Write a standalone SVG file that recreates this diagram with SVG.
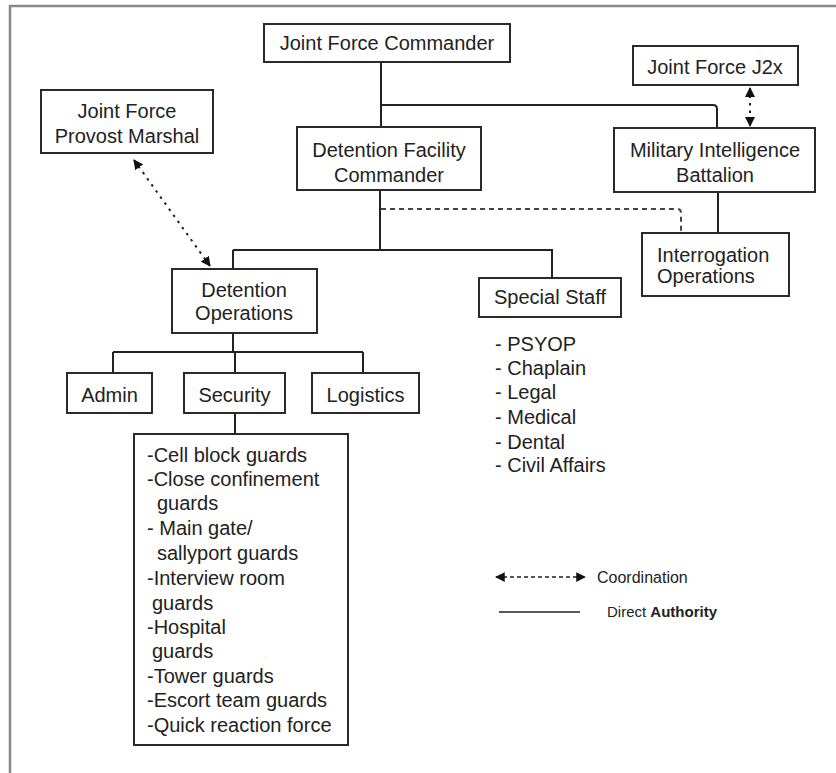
<svg xmlns="http://www.w3.org/2000/svg" width="836" height="773" viewBox="0 0 836 773">
<style>
.box{fill:#fff;stroke:#2a2a2a;stroke-width:2}
.t{font-family:"Liberation Sans",Arial,sans-serif;font-size:20px;fill:#222}
.c{text-anchor:middle}
.ln{fill:none;stroke:#222;stroke-width:2}
.dot{fill:none;stroke:#222;stroke-width:2;stroke-dasharray:2.5 5}
.dash{fill:none;stroke:#444;stroke-width:2;stroke-dasharray:5 4}
</style>
<defs>
<marker id="ah" viewBox="0 0 10 10" refX="9" refY="5" markerWidth="5" markerHeight="5" orient="auto-start-reverse" markerUnits="strokeWidth">
<path d="M0,0 L10,5 L0,10 z" fill="#111"/>
</marker>
<marker id="ahl" viewBox="0 0 10 10" refX="9" refY="5" markerWidth="6.5" markerHeight="6.5" orient="auto-start-reverse" markerUnits="strokeWidth">
<path d="M0,0 L10,5 L0,10 z" fill="#111"/>
</marker>
</defs>
<rect width="836" height="773" fill="#fff"/>
<path d="M10,773 V6 H836" fill="none" stroke="#888" stroke-width="2.5"/>

<g id="connectors">
<path class="ln" d="M381,62 V127"/>
<path class="ln" d="M381,105 H713 Q717,105 717,109 V128"/>
<path class="ln" d="M718,192 V233"/>
<path class="ln" d="M380,190 V250"/>
<path class="ln" d="M233,250 H552 V278"/>
<path class="ln" d="M233,250 V269"/>
<path class="dash" d="M381,209 H677 Q681,209 681,213 V233"/>
<path class="ln" d="M233,333 V352"/>
<path class="ln" d="M113,352 H363"/>
<path class="ln" d="M113,352 V373"/>
<path class="ln" d="M235,352 V373"/>
<path class="ln" d="M363,352 V373"/>
<path class="ln" d="M235,413 V434"/>
<path class="dot" d="M134,160 L210,266" marker-start="url(#ah)" marker-end="url(#ah)"/>
<path class="dot" d="M750,88 V126" marker-start="url(#ah)" marker-end="url(#ah)"/>
</g>

<g id="jfc"><rect class="box" x="264" y="24" width="246" height="38"/><text class="t c" x="387" y="50">Joint Force Commander</text></g>
<g id="pm"><rect class="box" x="41" y="90" width="172" height="63"/><text class="t c" x="127" y="118">Joint Force</text><text class="t c" x="127" y="143">Provost Marshal</text></g>
<g id="j2x"><rect class="box" x="633" y="46" width="165" height="39"/><text class="t c" x="715" y="74">Joint Force J2x</text></g>
<g id="dfc"><rect class="box" x="297" y="127" width="184" height="63"/><text class="t c" x="389" y="157">Detention Facility</text><text class="t c" x="389" y="182">Commander</text></g>
<g id="mi"><rect class="box" x="614" y="128" width="201" height="64"/><text class="t c" x="715" y="157">Military Intelligence</text><text class="t c" x="715" y="182">Battalion</text></g>
<g id="io"><rect class="box" x="642" y="233" width="147" height="63"/><text class="t" x="657" y="262">Interrogation</text><text class="t" x="657" y="283">Operations</text></g>
<g id="do"><rect class="box" x="172" y="269" width="145" height="64"/><text class="t c" x="244" y="297">Detention</text><text class="t c" x="244" y="320">Operations</text></g>
<g id="ss"><rect class="box" x="479" y="278" width="142" height="39"/><text class="t c" x="550" y="304">Special Staff</text></g>
<g id="sslist">
<text class="t" x="495" y="351">- PSYOP</text>
<text class="t" x="495" y="375">- Chaplain</text>
<text class="t" x="495" y="399">- Legal</text>
<text class="t" x="495" y="424">- Medical</text>
<text class="t" x="495" y="449">- Dental</text>
<text class="t" x="495" y="472">- Civil Affairs</text>
</g>
<g id="admin"><rect class="box" x="67" y="373" width="85" height="40"/><text class="t c" x="109.5" y="402">Admin</text></g>
<g id="security"><rect class="box" x="184" y="373" width="101" height="40"/><text class="t c" x="234.5" y="402">Security</text></g>
<g id="logistics"><rect class="box" x="312" y="373" width="107" height="40"/><text class="t c" x="365.5" y="402">Logistics</text></g>
<g id="seclist"><rect class="box" x="134" y="434" width="214" height="311"/>
<text class="t" x="147" y="462">-Cell block guards</text>
<text class="t" x="147" y="486">-Close confinement</text>
<text class="t" x="157" y="510"> guards</text>
<text class="t" x="147" y="535">- Main gate/</text>
<text class="t" x="157" y="560"> sallyport guards</text>
<text class="t" x="147" y="585">-Interview room</text>
<text class="t" x="152" y="610">guards</text>
<text class="t" x="147" y="634">-Hospital</text>
<text class="t" x="152" y="658">guards</text>
<text class="t" x="147" y="683">-Tower guards</text>
<text class="t" x="147" y="707">-Escort team guards</text>
<text class="t" x="147" y="732">-Quick reaction force</text>
</g>
<g id="legend">
<path d="M496,577 H585" fill="none" stroke="#222" stroke-width="1.5" stroke-dasharray="4 3" marker-start="url(#ahl)" marker-end="url(#ahl)"/>
<text class="t" x="597" y="583" style="font-size:16px">Coordination</text>
<path d="M499,612 H580" fill="none" stroke="#222" stroke-width="1.5"/>
<text class="t" x="607" y="617" style="font-size:15px">Direct <tspan font-weight="bold">Authority</tspan></text>
</g>
</svg>
